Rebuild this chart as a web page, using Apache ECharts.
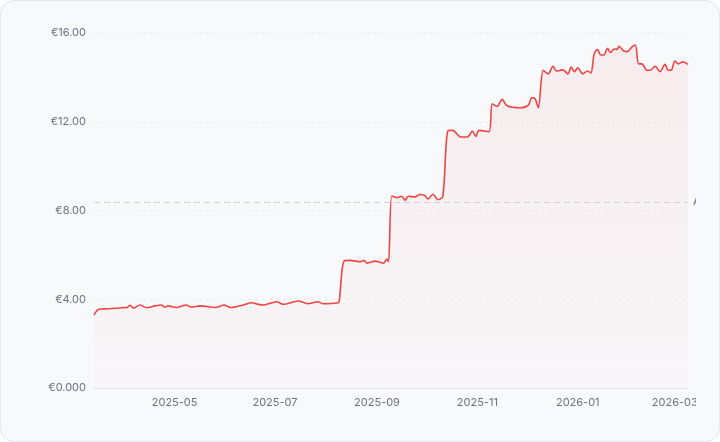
<!DOCTYPE html>
<html>
<head>
<meta charset="utf-8">
<script src="https://cdn.jsdelivr.net/npm/echarts@6/dist/echarts.min.js"></script>
<style>
    html, body { margin: 0; padding: 0; background: #ffffff; }
    .card {
        position: absolute;
        left: 0; top: 0;
        width: 718px; height: 440px;
        border: 1px solid #e3e6ea;
        border-radius: 14px;
        background: #f8f9fb;
    }
    #price-chart {
        position: absolute;
        left: 16px; top: 16px;
        width: 679px; height: 410px;
    }
</style>
</head>
<body>
<div class="card"><div id="price-chart"></div></div>
<script>
// price history
const priceDates = [
    '2025-03-13', '2025-03-16', '2025-03-22', '2025-03-30', '2025-04-02', '2025-04-04', '2025-04-06',
    '2025-04-10', '2025-04-14', '2025-04-19', '2025-04-23', '2025-04-25', '2025-04-27', '2025-05-02',
    '2025-05-08', '2025-05-11', '2025-05-17', '2025-05-26', '2025-05-31', '2025-06-04', '2025-06-11',
    '2025-06-17', '2025-06-21', '2025-06-24', '2025-07-02', '2025-07-06', '2025-07-15', '2025-07-21',
    '2025-07-27', '2025-07-30', '2025-08-08', '2025-08-09', '2025-08-12', '2025-08-16', '2025-08-22',
    '2025-08-24', '2025-08-26', '2025-08-31', '2025-09-05', '2025-09-07', '2025-09-08', '2025-09-10',
    '2025-09-13', '2025-09-16', '2025-09-18', '2025-09-20', '2025-09-24', '2025-09-27', '2025-09-30',
    '2025-10-02', '2025-10-05', '2025-10-08', '2025-10-11', '2025-10-14', '2025-10-17', '2025-10-22',
    '2025-10-26', '2025-10-29', '2025-10-31', '2025-11-02', '2025-11-08', '2025-11-10', '2025-11-13',
    '2025-11-16', '2025-11-19', '2025-11-27', '2025-12-02', '2025-12-04', '2025-12-06', '2025-12-08',
    '2025-12-11', '2025-12-14', '2025-12-17', '2025-12-19', '2025-12-23', '2025-12-26', '2025-12-28',
    '2025-12-30', '2026-01-01', '2026-01-04', '2026-01-07', '2026-01-09', '2026-01-11', '2026-01-13',
    '2026-01-15', '2026-01-17', '2026-01-19', '2026-01-21', '2026-01-23', '2026-01-25', '2026-01-26',
    '2026-01-29', '2026-01-31', '2026-02-03', '2026-02-05', '2026-02-07', '2026-02-09', '2026-02-12',
    '2026-02-14', '2026-02-17', '2026-02-20', '2026-02-23', '2026-02-25', '2026-02-27', '2026-03-01',
    '2026-03-03', '2026-03-06', '2026-03-09'
];

const priceValues = [
    3.28, 3.55, 3.57, 3.62, 3.63, 3.73, 3.60,
    3.74, 3.62, 3.70, 3.74, 3.64, 3.70, 3.63,
    3.74, 3.65, 3.70, 3.63, 3.74, 3.63, 3.73,
    3.84, 3.77, 3.74, 3.89, 3.77, 3.92, 3.80,
    3.89, 3.80, 3.83, 3.90, 5.72, 5.75, 5.69,
    5.75, 5.63, 5.72, 5.63, 5.81, 5.70, 8.65,
    8.58, 8.64, 8.46, 8.64, 8.61, 8.72, 8.68,
    8.52, 8.73, 8.49, 8.64, 11.58, 11.61, 11.31,
    11.31, 11.58, 11.34, 11.61, 11.55, 12.81, 12.69,
    13.01, 12.72, 12.63, 12.75, 13.08, 13.05, 12.63,
    14.32, 14.16, 14.50, 14.29, 14.34, 14.16, 14.47,
    14.26, 14.43, 14.16, 14.29, 14.20, 15.07, 15.25,
    15.01, 15.01, 15.31, 15.12, 15.28, 15.26, 15.40,
    15.19, 15.16, 15.37, 15.46, 14.61, 14.61, 14.32,
    14.32, 14.50, 14.26, 14.59, 14.32, 14.34, 14.74,
    14.61, 14.70, 14.59
];

const averagePrice = 8.38;
const yTicks = [0, 4, 8, 12, 16];

const seriesData = priceDates.map((d, i) => [d, priceValues[i]]);

const priceChart = echarts.init(document.getElementById('price-chart'));

const priceOption = {
    animation: false,
    grid: {
        left: 77,
        right: 8,
        top: 16,
        bottom: 39,
        containLabel: false,
        outerBoundsMode: 'none',
    },
    tooltip: { show: false },
    xAxis: {
        type: 'time',
        min: priceDates[0],
        max: priceDates[priceDates.length - 1],
        splitNumber: 6,
        axisLine: { show: true, lineStyle: { color: '#dde1e6', width: 1 } },
        axisTick: { show: false },
        splitLine: { show: false },
        axisLabel: {
            color: '#6b7280',
            fontFamily: 'Inter, sans-serif',
            fontSize: 11,
            margin: 9,
            hideOverlap: false,
            formatter: value => echarts.time.format(value, '{yyyy}-{MM}', false),
        },
    },
    yAxis: {
        type: 'value',
        min: yTicks[0],
        max: yTicks[yTicks.length - 1],
        interval: 4,
        axisLine: { show: false },
        axisTick: { show: false },
        splitLine: {
            show: true,
            lineStyle: { color: '#e9ebee', type: [3, 4], width: 1 },
        },
        axisLabel: {
            color: '#6b7280',
            fontFamily: 'Inter, sans-serif',
            fontSize: 11,
            margin: 8,
            // the reference prints the zero tick with three decimals
            formatter: value => value === 0 ? '€0.000' : '€' + value.toFixed(2),
        },
    },
    series: [
        {
            type: 'line',
            data: seriesData,
            smooth: 0.3,
            showSymbol: false,
            lineStyle: { color: '#ef4444', width: 1.6 },
            itemStyle: { color: '#ef4444' },
            areaStyle: {
                color: new echarts.graphic.LinearGradient(0, 0, 0, 1, [
                    { offset: 0, color: 'rgba(239, 68, 68, 0.10)' },
                    { offset: 1, color: 'rgba(239, 68, 68, 0.02)' },
                ]),
            },
            markLine: {
                silent: true,
                symbol: 'none',
                data: [{ yAxis: averagePrice }],
                lineStyle: { color: '#cdd1d6', type: [6, 4], width: 1 },
                label: {
                    show: true,
                    position: 'end',
                    distance: 5,
                    formatter: 'Avg',
                    color: '#6b7280',
                    fontFamily: 'Inter, sans-serif',
                    fontSize: 11,
                },
            },
        },
    ],
};

priceChart.setOption(priceOption);
</script>
</body>
</html>
